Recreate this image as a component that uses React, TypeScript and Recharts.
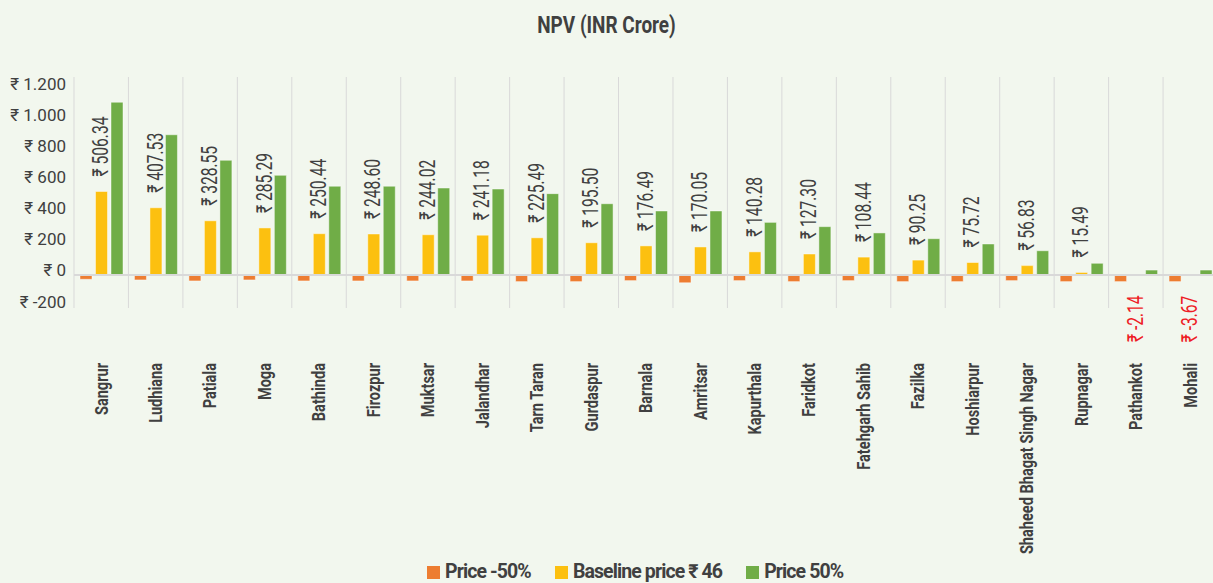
import { Bar, BarChart, CartesianGrid, LabelList, Legend, ReferenceLine, XAxis, YAxis } from "recharts";

const categories = [
  "Sangrur", "Ludhiana", "Patiala", "Moga", "Bathinda", "Firozpur", "Muktsar", "Jalandhar",
  "Tarn Taran", "Gurdaspur", "Barnala", "Amritsar", "Kapurthala", "Faridkot", "Fatehgarh Sahib",
  "Fazilka", "Hoshiarpur", "Shaheed Bhagat Singh Nagar", "Rupnagar", "Pathankot", "Mohali",
];
const priceMinus50 = [-26, -30, -36, -30, -36, -36, -36, -36, -40, -40, -34, -47, -34, -40, -34, -40, -40, -34, -40, -40, -40];
const baselinePrice = [
  506.34, 407.53, 328.55, 285.29, 250.44, 248.6, 244.02, 241.18, 225.49, 195.5, 176.49, 170.05,
  140.28, 127.3, 108.44, 90.25, 75.72, 56.83, 15.49, -2.14, -3.67,
];
const pricePlus50 = [1047, 850, 695, 604, 538, 538, 527, 521, 493, 432, 388, 388, 319, 293, 255, 220, 188, 147, 71, 30, 30];
const yTicks = [-200, 0, 200, 400, 600, 800, 1000, 1200];

const seriesInfo = [
  { key: "low", name: "Price -50%", color: "#ed7d31" },
  { key: "base", name: "Baseline price ₹ 46", color: "#fcc010" },
  { key: "high", name: "Price 50%", color: "#70ad47" },
];

const data = categories.map((name, i) => ({
  name,
  low: priceMinus50[i],
  base: baselinePrice[i],
  high: pricePlus50[i],
}));

// no condensed face installed, so text gets squeezed with a scale instead
const FONT = "Roboto, 'Noto Sans', sans-serif";
const TEXT = "#404040";

const rupee = (v: number) => "₹ " + v.toLocaleString("de-DE");

function CategoryTick(props: any) {
  const { x, y, payload } = props;
  return (
    <text
      transform={`translate(${x}, ${y + 47}) rotate(-90) scale(0.81, 1)`}
      dy="0.35em"
      textAnchor="end"
      fill={TEXT}
      fontSize={18}
      fontWeight="bold"
      fontFamily={FONT}
    >
      {payload.value}
    </text>
  );
}

function ValueTick(props: any) {
  const { x, y, payload } = props;
  // labels in the source sit on a slightly tighter spacing than the bars
  const shift = -4.5 + payload.value * 0.0096;
  return (
    <text x={x} y={y + shift} dy="0.35em" textAnchor="end" fill={TEXT} fontSize={17} fontFamily={FONT}>
      {rupee(payload.value)}
    </text>
  );
}

function ValueLabel(props: any) {
  const { x, y, width, height, value } = props;
  const cx = x + width / 2;
  const top = Math.min(y, y + height);
  const bottom = Math.max(y, y + height);
  const neg = value < 0;
  const ly = neg ? bottom + 20 : top - 15;
  return (
    <text
      transform={`translate(${cx - 1}, ${ly}) rotate(-90) scale(0.71, 1)`}
      dy="0.35em"
      textAnchor={neg ? "end" : "start"}
      fill={neg ? "#ee1c25" : TEXT}
      fontSize={22}
      fontFamily={FONT}
    >
      {"₹ " + Number(value).toFixed(2)}
    </text>
  );
}

function LegendContent() {
  return (
    <div
      style={{
        display: "flex",
        gap: 24,
        fontFamily: FONT,
        fontWeight: "bold",
        fontSize: 19.5,
        letterSpacing: -0.9,
        lineHeight: "20px",
        color: TEXT,
        whiteSpace: "nowrap",
      }}
    >
      {seriesInfo.map((s) => (
        <div key={s.key} style={{ display: "flex", alignItems: "center", gap: 5 }}>
          <span style={{ width: 13, height: 13, background: s.color, display: "inline-block" }} />
          <span>{s.name}</span>
        </div>
      ))}
    </div>
  );
}

export default function App() {
  const n = categories.length;
  return (
    <div style={{ position: "fixed", top: 0, left: 0, width: 1213, height: 583, overflow: "hidden", background: "#f2f7ee" }}>
      <div
        style={{
          position: "absolute",
          top: 11,
          width: 1213,
          textAlign: "center",
          fontFamily: FONT,
          fontWeight: "bold",
          fontSize: 24,
          lineHeight: "28px",
          color: TEXT,
          transform: "scaleX(0.79)",
        }}
      >
        NPV (INR Crore)
      </div>
      <BarChart
        width={1230}
        height={583}
        data={data}
        margin={{ top: 77, right: 12.5, bottom: 75, left: 0 }}
        barSize={12}
        barGap={3.5}
      >
        <CartesianGrid
          horizontal={false}
          stroke="#d9d9d9"
          verticalCoordinatesGenerator={({ offset }: any) =>
            Array.from({ length: n + 1 }, (_, i) => offset.left + (i * offset.width) / n)
          }
        />
        <XAxis dataKey="name" height={200} axisLine={false} tickLine={false} interval={0} tick={<CategoryTick />} />
        <YAxis
          width={74}
          domain={[-200, 1200]}
          ticks={yTicks}
          axisLine={false}
          tickLine={false}
          tick={<ValueTick />}
        />
        <ReferenceLine y={0} stroke="#d9d9d9" strokeWidth={2} />
        {seriesInfo.map((s) => (
          <Bar
            key={s.key}
            dataKey={s.key}
            name={s.name}
            fill={s.color}
            stroke="#ffffff"
            strokeOpacity={0.45}
            strokeWidth={1}
            isAnimationActive={false}
          >
            {s.key === "base" && <LabelList dataKey="base" content={<ValueLabel />} />}
          </Bar>
        ))}
        <Legend
          layout="horizontal"
          verticalAlign="middle"
          align="center"
          content={<LegendContent />}
          wrapperStyle={{ top: 562, left: 427, width: "auto" }}
        />
      </BarChart>
    </div>
  );
}
